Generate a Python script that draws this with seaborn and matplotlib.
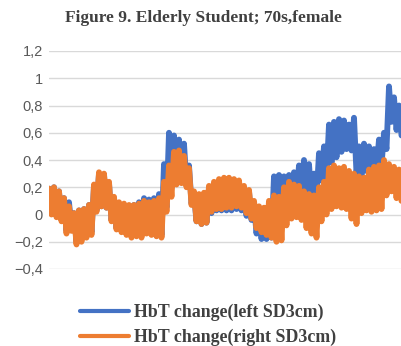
import numpy as np
import pandas as pd
import matplotlib
matplotlib.use("Agg")
import matplotlib.pyplot as plt
import seaborn as sns

# Sampled envelope of each recording (upper / lower excursion per sample)
left_hi = [0.19, 0.20, 0.17, 0.12, 0.09, 0.01, 0.03, 0.04, 0.07, 0.21,
           0.30, 0.29, 0.23, 0.12, 0.08, 0.07, 0.06, 0.07, 0.09, 0.12,
           0.11, 0.12, 0.15, 0.37, 0.60, 0.58, 0.55, 0.52, 0.36, 0.15,
           0.14, 0.15, 0.20, 0.22, 0.24, 0.25, 0.25, 0.24, 0.23, 0.19,
           0.17, 0.08, 0.04, 0.02, 0.00, 0.28, 0.29, 0.28, 0.29, 0.31,
           0.36, 0.40, 0.37, 0.30, 0.45, 0.50, 0.66, 0.68, 0.70, 0.69,
           0.66, 0.71, 0.50, 0.52, 0.50, 0.48, 0.55, 0.60, 0.94, 0.86,
           0.80]
left_lo = [0.01, -0.01, -0.04, -0.12, -0.10, -0.20, -0.18, -0.15, -0.13, 0.03,
           0.06, 0.05, -0.04, -0.10, -0.12, -0.14, -0.15, -0.14, -0.15, -0.13,
           -0.14, -0.15, -0.15, 0.05, 0.20, 0.25, 0.25, 0.22, 0.08, -0.05,
           -0.07, -0.06, 0.01, 0.03, 0.03, 0.03, 0.03, 0.04, 0.03, -0.01,
           -0.04, -0.14, -0.18, -0.18, -0.17, 0.00, 0.05, 0.10, 0.12, 0.14,
           0.18, 0.17, 0.10, 0.12, 0.25, 0.28, 0.38, 0.42, 0.46, 0.48,
           0.47, 0.30, 0.29, 0.32, 0.34, 0.33, 0.36, 0.48, 0.68, 0.62,
           0.58]
right_hi = [0.19, 0.20, 0.17, 0.12, 0.06, 0.01, 0.03, 0.04, 0.07, 0.22,
            0.31, 0.30, 0.24, 0.13, 0.09, 0.08, 0.07, 0.07, 0.08, 0.10,
            0.09, 0.10, 0.12, 0.24, 0.36, 0.46, 0.47, 0.43, 0.34, 0.17,
            0.15, 0.16, 0.21, 0.24, 0.26, 0.27, 0.27, 0.26, 0.25, 0.21,
            0.18, 0.10, 0.06, 0.05, 0.10, 0.14, 0.13, 0.20, 0.24, 0.22,
            0.21, 0.17, 0.15, 0.14, 0.20, 0.24, 0.34, 0.36, 0.34, 0.35,
            0.32, 0.30, 0.28, 0.27, 0.33, 0.35, 0.36, 0.40, 0.37, 0.35,
            0.33]
right_lo = [0.00, -0.02, -0.05, -0.14, -0.12, -0.22, -0.20, -0.17, -0.15, 0.02,
            0.06, 0.05, -0.05, -0.11, -0.13, -0.15, -0.17, -0.16, -0.17, -0.14,
            -0.15, -0.16, -0.17, 0.02, 0.13, 0.22, 0.23, 0.20, 0.07, -0.05,
            -0.07, -0.06, 0.02, 0.04, 0.04, 0.05, 0.05, 0.06, 0.05, 0.01,
            -0.03, -0.10, -0.13, -0.15, -0.17, -0.20, -0.19, -0.08, -0.03, -0.02,
            -0.04, -0.10, -0.14, -0.17, -0.05, 0.00, 0.04, 0.06, 0.05, 0.04,
            -0.03, -0.07, 0.01, 0.03, 0.02, 0.03, 0.04, 0.14, 0.17, 0.12,
            0.10]

series_names = ["HbT change(left SD3cm)", "HbT change(right SD3cm)"]
series_colors = ["#4472C4", "#ED7D31"]
y_ticks = [-0.4, -0.2, 0.0, 0.2, 0.4, 0.6, 0.8, 1.0, 1.2]
y_tick_labels = ["\u22120,4", "\u22120,2", "0", "0,2", "0,4", "0,6", "0,8", "1", "1,2"]
title = "Figure 9. Elderly Student; 70s,female"


def zigzag(hi, lo):
    """Alternate each sample's upper and lower excursion along time."""
    t, v = [], []
    for i, (h, l) in enumerate(zip(hi, lo)):
        t += [i, i + 0.5]
        v += [h, l]
    return t, v


frames = []
for name, hi, lo in [(series_names[0], left_hi, left_lo),
                     (series_names[1], right_hi, right_lo)]:
    t, v = zigzag(hi, lo)
    frames.append(pd.DataFrame({"t": t, "value": v, "series": name}))
df = pd.concat(frames, ignore_index=True)

sns.set_style("white")
fig = plt.figure(figsize=(4.01, 3.46), dpi=100)
W, H = 401, 346
ax = fig.add_axes([49 / W, 1 - 269 / H, 1 - 49 / W, (269 - 51) / H])

sns.lineplot(data=df, x="t", y="value", hue="series", hue_order=series_names,
             palette=series_colors, estimator=None, sort=True,
             linewidth=4.2, ax=ax, legend=True)

ax.set_xlim(0, 70.4)
ax.set_ylim(-0.4, 1.2)
ax.set_yticks(y_ticks)
ax.set_yticklabels(y_tick_labels)
ax.set_xticks([])
ax.set_xlabel("")
ax.set_ylabel("")
ax.yaxis.grid(True, color="#d9d9d9", linewidth=1.0)
ax.set_axisbelow(True)
for s in ax.spines.values():
    s.set_visible(False)
ax.tick_params(axis="y", length=0, pad=4.5, labelsize=10.5, labelcolor="#595959")
for lab in ax.get_yticklabels():
    lab.set_fontfamily("Liberation Sans")

handles, labels = ax.get_legend_handles_labels()
ax.get_legend().remove()
leg = fig.legend(handles, labels, loc="center left",
                 bbox_to_anchor=(64 / W, 1 - 325 / H),
                 frameon=False, handlelength=2.7, handletextpad=0.3,
                 labelspacing=0.45, prop={"family": "Liberation Serif",
                                          "weight": "bold", "size": 12.9})
for line in leg.get_lines():
    line.set_linewidth(3)
for txt in leg.get_texts():
    txt.set_color("#404040")

fig.text(203 / W, 1 - 18 / H, title, ha="center", va="center",
         fontfamily="Liberation Serif", fontweight="bold", fontsize=12.5,
         color="#404040")

fig.savefig("out.png", dpi=100)
